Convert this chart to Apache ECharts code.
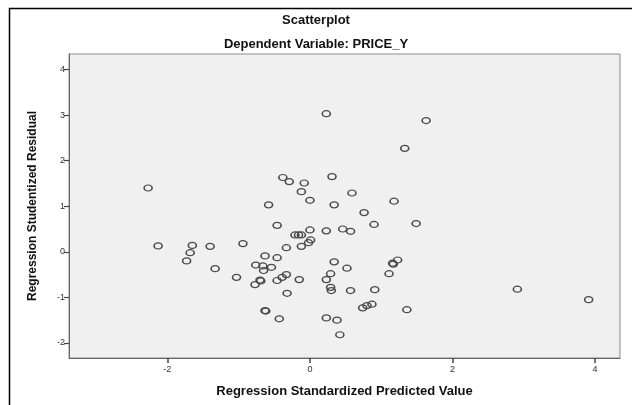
<!DOCTYPE html>
<html lang="en">

<head>
    <meta charset="UTF-8">
    <title>Scatterplot</title>
    <script src="https://cdn.jsdelivr.net/npm/echarts@6.0.0/dist/echarts.min.js"></script>
    <style>
        body { margin: 0; background: #fff; }
    </style>
</head>

<body>
    <div id="myChart" style="width: 632px; height: 405px;"></div>
    <script>
        // standardized predicted value (x) and studentized residual (y)
        const predicted = [
            -2.27, -0.58, -2.13, -1.65, -1.68, -1.73, -1.40, -1.33, -0.94, -1.03,
            -0.63, -0.76, -0.66, -0.65, -0.54, -0.70, -0.69, -0.77, -0.63, -0.62,
            0.23, 1.63, 1.33, -0.38, -0.29, -0.08, -0.12, 0.00, 0.31, 0.34,
            0.59, 1.18, 0.76, -0.46, 0.90, 1.49, 0.00, 0.23, 0.46, 0.57,
            -0.21, -0.16, -0.12, 0.01, -0.02, -0.12, -0.33, -0.46, -0.46, -0.39,
            -0.33, -0.15, -0.32, -0.43, 0.34, 0.29, 0.23, 0.52, 0.29, 0.30,
            0.57, 0.91, 0.74, 0.80, 0.87, 0.23, 0.38, 0.42, 1.16, 1.17,
            1.23, 1.11, 1.36, 2.91, 3.91
        ];
        const residual = [
            1.40, 1.03, 0.13, 0.14, -0.02, -0.20, 0.12, -0.37, 0.18, -0.56,
            -0.09, -0.29, -0.31, -0.41, -0.34, -0.62, -0.64, -0.72, -1.29, -1.30,
            3.03, 2.88, 2.27, 1.63, 1.54, 1.51, 1.32, 1.13, 1.65, 1.03,
            1.29, 1.11, 0.86, 0.58, 0.60, 0.62, 0.48, 0.46, 0.50, 0.45,
            0.37, 0.37, 0.37, 0.26, 0.20, 0.12, 0.09, -0.13, -0.63, -0.56,
            -0.50, -0.61, -0.91, -1.47, -0.22, -0.48, -0.61, -0.36, -0.78, -0.85,
            -0.85, -0.83, -1.23, -1.18, -1.15, -1.45, -1.50, -1.82, -0.25, -0.27,
            -0.18, -0.48, -1.27, -0.82, -1.05
        ];
        const xTicks = [-2, 0, 2, 4];
        const yTicks = [-2, -1, 0, 1, 2, 3, 4];

        const points = predicted.map((x, i) => [x, residual[i]]);

        const myChart = echarts.init(document.getElementById('myChart'));

        const boldFont = 'Liberation Sans, Arial, sans-serif';

        const option = {
            animation: false,
            backgroundColor: '#fff',
            title: [{
                text: 'Scatterplot',
                left: 'center',
                top: 9,
                textStyle: { fontFamily: boldFont, fontSize: 13, fontWeight: 'bold', color: '#111' }
            }, {
                text: 'Dependent Variable: PRICE_Y',
                left: 'center',
                top: 33,
                textStyle: { fontFamily: boldFont, fontSize: 13, fontWeight: 'bold', color: '#111' }
            }],
            graphic: [{
                type: 'rect',
                shape: { x: 9.5, y: 8.5, width: 640, height: 420 },
                style: { fill: 'none', stroke: '#000', lineWidth: 1.5 }
            }],
            grid: {
                left: 69,
                right: 12,
                top: 54,
                bottom: 47,
                show: true,
                backgroundColor: '#f0f0f0',
                borderColor: '#8a8a8a',
                borderWidth: 1
            },
            xAxis: {
                type: 'value',
                min: -3.38,
                max: 4.35,
                name: 'Regression Standardized Predicted Value',
                nameLocation: 'middle',
                nameGap: 27,
                nameTextStyle: { fontFamily: boldFont, fontSize: 13, fontWeight: 'bold', color: '#111' },
                splitLine: { show: false },
                axisLine: { show: true, onZero: false, lineStyle: { color: '#666', width: 1 } },
                axisTick: { show: true, length: 5, customValues: xTicks, lineStyle: { color: '#444', width: 1.5 } },
                axisLabel: { customValues: xTicks, fontSize: 9, color: '#333', margin: 7 }
            },
            yAxis: {
                type: 'value',
                min: -2.33,
                max: 4.34,
                name: 'Regression Studentized Residual',
                nameLocation: 'middle',
                nameGap: 30,
                nameTextStyle: { fontFamily: boldFont, fontSize: 12, fontWeight: 'bold', color: '#111' },
                splitLine: { show: false },
                axisLine: { show: true, onZero: false, lineStyle: { color: '#666', width: 1 } },
                axisTick: { show: true, length: 5, customValues: yTicks, lineStyle: { color: '#444', width: 1.2 } },
                axisLabel: { customValues: yTicks, fontSize: 9, color: '#333', margin: 4 }
            },
            series: [{
                type: 'scatter',
                data: points,
                symbol: 'circle',
                symbolSize: [8, 6],
                itemStyle: {
                    color: 'rgba(0,0,0,0)',
                    borderColor: '#4a4a4a',
                    borderWidth: 1.4,
                    opacity: 1
                }
            }]
        };
        myChart.setOption(option);
    </script>
</body>

</html>
